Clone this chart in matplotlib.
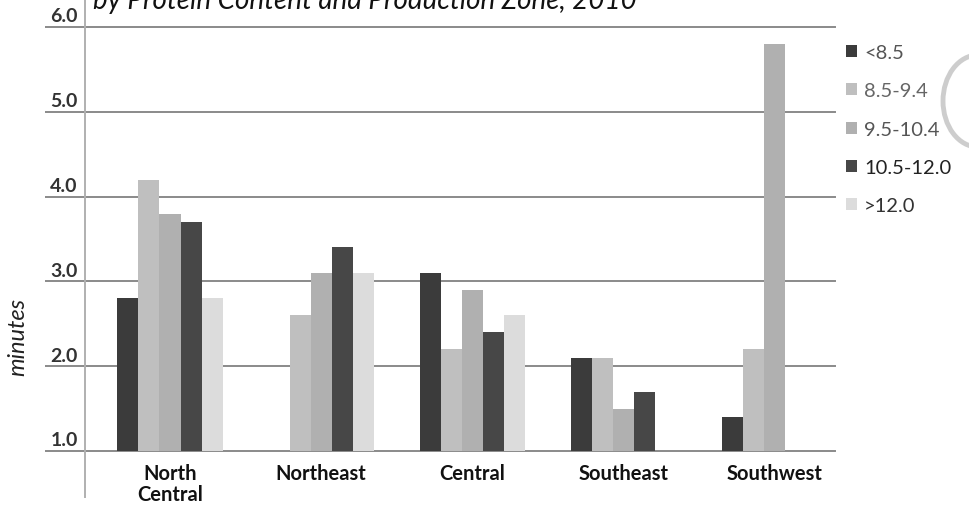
"""Falling number (minutes) by protein class and production zone, 2010."""
import numpy as np
import matplotlib.pyplot as plt
from matplotlib.lines import Line2D
from matplotlib.patches import Ellipse
import matplotlib.transforms as mtransforms

zones = ["North\nCentral", "Northeast", "Central", "Southeast", "Southwest"]
protein_classes = ["<8.5", "8.5-9.4", "9.5-10.4", "10.5-12.0", ">12.0"]

# minutes per protein class, one value per zone (nan = no sample)
lt_85 = [2.8, np.nan, 3.1, 2.1, 1.4]
p85_94 = [4.2, 2.6, 2.2, 2.1, 2.2]
p95_104 = [3.8, 3.1, 2.9, 1.5, 5.8]
p105_120 = [3.7, 3.4, 2.4, 1.7, np.nan]
gt_120 = [2.8, 3.1, 2.6, np.nan, np.nan]

series = [lt_85, p85_94, p95_104, p105_120, gt_120]
colors = ["#3b3b3b", "#bfbfbf", "#b0b0b0", "#474747", "#dcdcdc"]
legend_text = ["#555555", "#666666", "#555555", "#222222", "#333333"]

yticks = [1.0, 2.0, 3.0, 4.0, 5.0, 6.0]
ytick_labels = ["1.0", "2.0", "3.0", "4.0", "5.0", "6.0"]
base = 1.0

plt.rcParams["font.family"] = ["Lato", "DejaVu Sans"]

W, H = 970, 506
fig = plt.figure(figsize=(W / 100, H / 100), dpi=100)
ax = fig.add_axes([85 / W, 54 / H, 750 / W, 424 / H])

x = np.arange(len(zones))
bw = 0.139
for i, (vals, c) in enumerate(zip(series, colors)):
    vals = np.array(vals, dtype=float)
    ok = ~np.isnan(vals)
    ax.bar(x[ok] + (i - 2) * bw, vals[ok] - base, bottom=base, width=bw,
           color=c, linewidth=0, zorder=3, label=protein_classes[i])

ax.set_xlim(-0.562, 4.397)
ax.set_ylim(1.0, 6.0)

# gridlines run out past the axis as long tick marks
for y in yticks:
    ax.axhline(y, color="#8a8a8a", lw=1.4, zorder=2, clip_on=False)
ax.set_yticks(yticks)
ax.tick_params(axis="y", length=28.8, width=1.4, color="#8a8a8a",
               labelleft=False)
trans = mtransforms.blended_transform_factory(ax.transAxes, ax.transData)
for y, lab in zip(yticks, ytick_labels):
    ax.text(-0.028, y + 0.03, lab, transform=trans, ha="center", va="bottom",
            fontsize=14, fontweight="bold", color="#333333")

ax.set_xticks(x)
ax.set_xticklabels(zones, fontsize=14.5, fontweight="bold", color="#111111",
                   linespacing=1.05)
ax.tick_params(axis="x", length=0, pad=9)

for s in ["top", "right", "bottom", "left"]:
    ax.spines[s].set_visible(False)
fig.add_artist(Line2D([85 / W, 85 / W], [8 / H, 1.0], color="#b0b0b0", lw=1.4))

ax.set_ylabel("minutes", fontsize=17, style="italic", color="#222222")
ax.yaxis.set_label_coords(-0.076, 0.271)

leg = ax.legend(loc="upper left", bbox_to_anchor=(846 / W, 1 - 45 / H),
                bbox_transform=fig.transFigure, frameon=False, fontsize=14.5,
                handlelength=0.55, handleheight=0.55, handletextpad=0.35,
                labelspacing=1.06, borderpad=0, borderaxespad=0)
for t, c in zip(leg.get_texts(), legend_text):
    t.set_color(c)

fig.text(93 / W, 1 - 9 / H, "by Protein Content and Production Zone, 2010",
         fontsize=20, style="italic", color="#111111", va="baseline")

# binder clip shadow on the right margin
fig.add_artist(Ellipse((978 / W, 1 - 102 / H), 70 / W, 92 / H,
                       transform=fig.transFigure, fill=False,
                       edgecolor="#cdcdcd", lw=3.5))

fig.savefig("out.png", dpi=100)
